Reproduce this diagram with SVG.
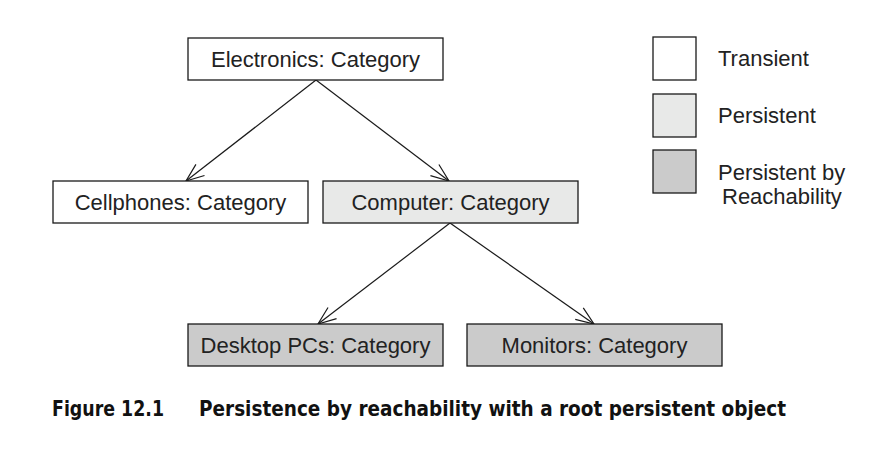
<svg xmlns="http://www.w3.org/2000/svg" width="892" height="456" viewBox="0 0 892 456">
<defs>
<style>
.box{stroke:#1a1a1a;stroke-width:1.3}
.t{fill:#fff}.p{fill:#e8e9e8}.r{fill:#cbcbcb}
.lbl{font-family:"Liberation Sans",Arial,sans-serif;font-size:22px;fill:#222;text-anchor:middle}
.leg{font-family:"Liberation Sans",Arial,sans-serif;font-size:22px;fill:#222}
.cap{font-family:"Liberation Sans Narrow","DejaVu Sans Condensed",sans-serif;font-stretch:condensed;font-weight:bold;font-size:21px;fill:#111}
.edge{stroke:#1a1a1a;stroke-width:1.2;fill:none}
</style>
<marker id="arr" viewBox="0 0 20 20" refX="19" refY="10" markerWidth="20" markerHeight="20" markerUnits="userSpaceOnUse" orient="auto">
<path d="M1,3 L19,10 L1,17" fill="none" stroke="#1a1a1a" stroke-width="1.2"/>
</marker>
</defs>
<rect width="892" height="456" fill="#fff"/>
<g id="connectors">
<line class="edge" x1="316" y1="80" x2="186" y2="181" marker-end="url(#arr)"/>
<line class="edge" x1="316" y1="80" x2="449" y2="181" marker-end="url(#arr)"/>
<line class="edge" x1="450" y1="223" x2="318" y2="324" marker-end="url(#arr)"/>
<line class="edge" x1="450" y1="223" x2="594" y2="324" marker-end="url(#arr)"/>
</g>
<g id="electronics">
<rect class="box t" x="188" y="38" width="255" height="42"/>
<text class="lbl" x="315.5" y="67">Electronics: Category</text>
</g>
<g id="cellphones">
<rect class="box t" x="53" y="181" width="255" height="42"/>
<text class="lbl" x="180.5" y="210">Cellphones: Category</text>
</g>
<g id="computer">
<rect class="box p" x="323" y="181" width="255" height="42"/>
<text class="lbl" x="450.5" y="210">Computer: Category</text>
</g>
<g id="desktop">
<rect class="box r" x="188" y="324" width="255" height="42"/>
<text class="lbl" x="315.5" y="353">Desktop PCs: Category</text>
</g>
<g id="monitors">
<rect class="box r" x="467" y="324" width="255" height="42"/>
<text class="lbl" x="594.5" y="353">Monitors: Category</text>
</g>
<g id="legend-transient">
<rect class="box t" x="653" y="37" width="43" height="43"/>
<text class="leg" x="718" y="66">Transient</text>
</g>
<g id="legend-persistent">
<rect class="box p" x="653" y="94" width="43" height="43"/>
<text class="leg" x="718" y="123">Persistent</text>
</g>
<g id="legend-reachability">
<rect class="box r" x="653" y="150" width="43" height="43"/>
<text class="leg" x="718" y="180">Persistent by</text>
<text class="leg" x="722" y="204">Reachability</text>
</g>
<text class="cap" x="52" y="416"><tspan textLength="112" lengthAdjust="spacingAndGlyphs">Figure 12.1</tspan><tspan x="199" textLength="587" lengthAdjust="spacingAndGlyphs">Persistence by reachability with a root persistent object</tspan></text>
</svg>
